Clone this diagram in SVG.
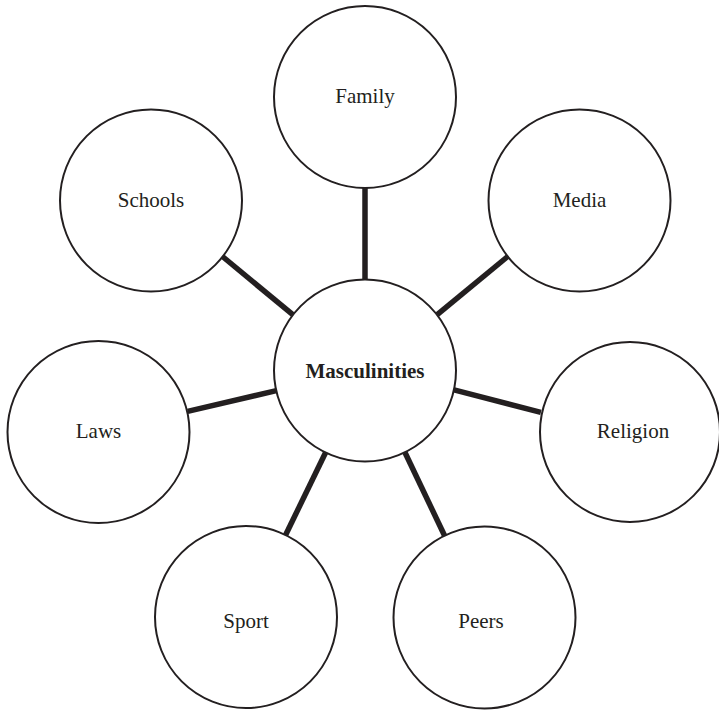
<svg xmlns="http://www.w3.org/2000/svg" width="719" height="711" viewBox="0 0 719 711">
  <style>
    .node circle { fill: #ffffff; stroke: #231f20; stroke-width: 2; }
    .node text { font-family: "Liberation Serif", "Times New Roman", serif; font-size: 21px; fill: #231f20; text-anchor: middle; }
    .node.hub text { font-weight: bold; }
    .links line { stroke: #231f20; stroke-width: 5.5; }
  </style>
  <rect width="719" height="711" fill="#ffffff"/>

  <!-- spokes: each runs from the hub rim to the outer circle rim along the centre line -->
  <g id="connectors" class="links">
    <line x1="365" y1="279.5" x2="365" y2="188"/>
    <line x1="292.8" y1="314.7" x2="222.5" y2="256.5"/>
    <line x1="437.2" y1="314.7" x2="507.7" y2="256.5"/>
    <line x1="276.4" y1="390.6" x2="187.6" y2="411.4"/>
    <line x1="454" y1="389.8" x2="540.9" y2="412.4"/>
    <line x1="325.5" y1="452.7" x2="285.6" y2="535"/>
    <line x1="405" y1="452.5" x2="444.5" y2="535.5"/>
  </g>

  <g id="hub" class="node hub">
    <circle cx="365" cy="370.5" r="91"/>
    <text x="365" y="377.5">Masculinities</text>
  </g>
  <g id="family" class="node">
    <circle cx="365" cy="97" r="91"/>
    <text x="365" y="103">Family</text>
  </g>
  <g id="schools" class="node">
    <circle cx="151" cy="200.5" r="91"/>
    <text x="151" y="207">Schools</text>
  </g>
  <g id="media" class="node">
    <circle cx="579.5" cy="200.5" r="91"/>
    <text x="579.5" y="207">Media</text>
  </g>
  <g id="laws" class="node">
    <circle cx="98.5" cy="432" r="91"/>
    <text x="98.5" y="438">Laws</text>
  </g>
  <g id="religion" class="node">
    <circle cx="630" cy="432" r="90"/>
    <text x="633" y="438">Religion</text>
  </g>
  <g id="sport" class="node">
    <circle cx="246" cy="617" r="91"/>
    <text x="246" y="628">Sport</text>
  </g>
  <g id="peers" class="node">
    <circle cx="484.5" cy="617.5" r="91"/>
    <text x="481" y="628">Peers</text>
  </g>
</svg>
